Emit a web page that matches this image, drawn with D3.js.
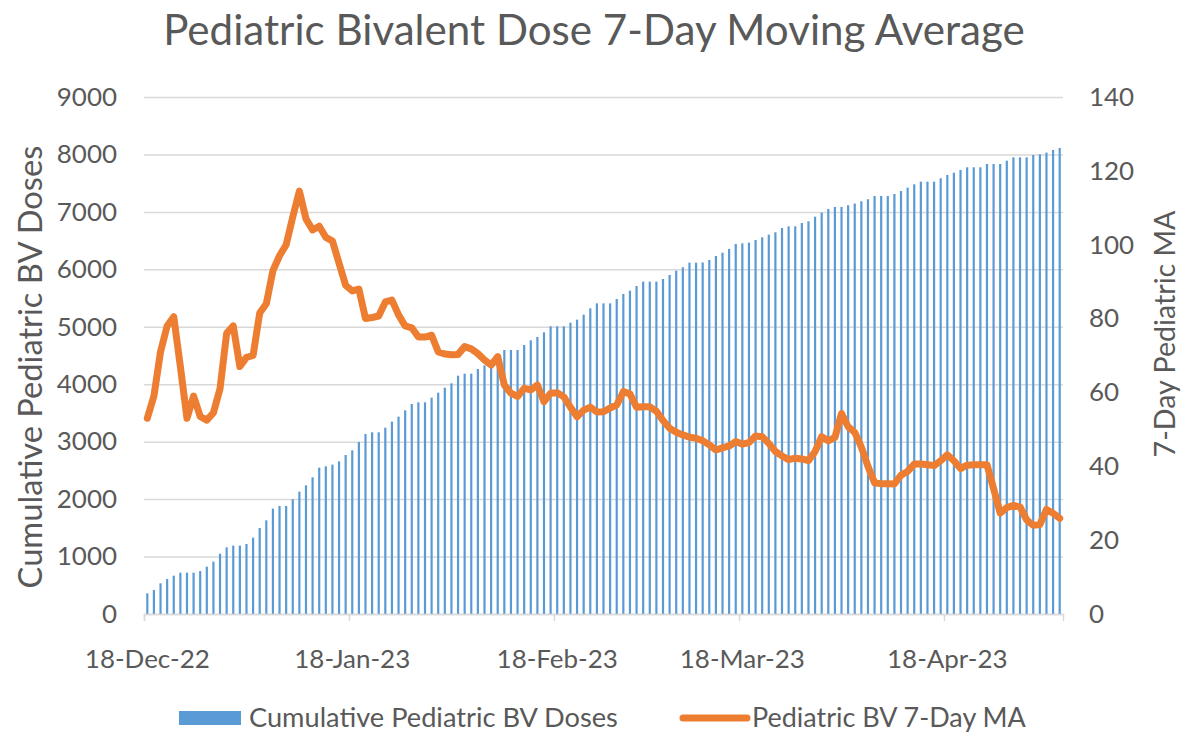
<!DOCTYPE html>
<html>
<head>
<meta charset="utf-8">
<script src="https://cdn.jsdelivr.net/npm/d3@7"></script>
<style>
  body { margin: 0; background: #fff; }
  text { font-family: Lato, "Open Sans", sans-serif; fill: #595959; }
</style>
</head>
<body>
<div id="chart"></div>
<script>
// ─── DATA ──────────────────────────────────────────────
// one value per day, 18-Dec-22 .. 5-May-23
const cumulativeDoses = [
  360, 418, 534, 609, 667, 720, 720, 720, 748, 824,
  911, 1050, 1161, 1190, 1190, 1219, 1329, 1497, 1631, 1834,
  1880, 1880, 1997, 2130, 2240, 2380, 2548, 2571, 2600, 2658,
  2768, 2850, 2994, 3134, 3163, 3163, 3244, 3349, 3436, 3546,
  3656, 3685, 3685, 3766, 3853, 3940, 4016, 4149, 4184, 4184,
  4265, 4329, 4375, 4480, 4596, 4596, 4596, 4683, 4765, 4822,
  4904, 5008, 5008, 5008, 5071, 5124, 5211, 5321, 5408, 5408,
  5408, 5484, 5571, 5629, 5710, 5786, 5786, 5786, 5832, 5902,
  5977, 6036, 6116, 6116, 6120, 6163, 6233, 6290, 6354, 6441,
  6453, 6465, 6511, 6558, 6604, 6645, 6720, 6749, 6749, 6807,
  6836, 6917, 6987, 7051, 7086, 7086, 7115, 7144, 7185, 7220,
  7277, 7277, 7277, 7312, 7364, 7422, 7480, 7526, 7526, 7526,
  7585, 7643, 7683, 7730, 7776, 7776, 7776, 7834, 7834, 7834,
  7892, 7950, 7950, 7950, 7991, 8003, 8032, 8078, 8113
];

const movingAvg = [
  53, 59, 71, 78, 80.5, 67, 53, 59, 53.5, 52.5,
  54.5, 61, 76, 78, 67, 69.5, 70, 81.5, 84, 93,
  97, 100, 107.5, 114.5, 107, 104, 105, 102, 101, 95,
  89, 87.5, 88, 80, 80.3, 80.7, 84.5, 85, 81, 78,
  77.5, 75, 75, 75.5, 71, 70.4, 70.2, 70.3, 72.4, 71.8,
  70.5, 68.8, 67.4, 69.7, 62, 59.8, 58.9, 61.1, 60.7, 62,
  57.5, 59.8, 59.9, 58.8, 56.0, 53.4, 55.2, 56.0, 54.7, 54.8,
  55.8, 56.6, 60.2, 59.6, 56.0, 56.1, 56.1, 54.9, 52.4, 50.3,
  49.2, 48.5, 47.9, 47.6, 46.9, 45.8, 44.4, 45.0, 45.5, 46.7,
  46.0, 46.4, 48.2, 48.0, 46.2, 44.0, 42.8, 41.8, 42.2, 42.0,
  41.5, 44.0, 48.0, 46.9, 47.8, 54.3, 50.7, 49.2, 45.2, 40.0,
  35.5, 35.3, 35.3, 35.2, 37.6, 38.6, 40.6, 40.6, 40.4, 40.2,
  41.5, 43.1, 41.5, 39.4, 40.3, 40.4, 40.4, 40.4, 34.0, 27.3,
  28.8, 29.4, 29.0, 25.5, 24.0, 24.2, 28.3, 27.3, 25.9
];

const xTickLabels = ["18-Dec-22", "18-Jan-23", "18-Feb-23", "18-Mar-23", "18-Apr-23"];
const leftTicks = [0, 1000, 2000, 3000, 4000, 5000, 6000, 7000, 8000, 9000];
const rightTicks = [0, 20, 40, 60, 80, 100, 120, 140];

const titleText = "Pediatric Bivalent Dose 7-Day Moving Average";
const leftTitle = "Cumulative Pediatric BV Doses";
const rightTitle = "7-Day Pediatric MA";
const barName = "Cumulative Pediatric BV Doses";
const lineName = "Pediatric BV 7-Day MA";

// ─── LAYOUT ────────────────────────────────────────────
const width = 1183, height = 732;
const plot = { left: 144, right: 1063, top: 97, bottom: 614 };
const blue = "#5B9BD5", orange = "#ED7D31", grid = "#D9D9D9";

const parseTick = d3.utcParse("%d-%b-%y");
const startDay = new Date(Date.UTC(2022, 11, 18));
const endDay = d3.utcDay.offset(startDay, cumulativeDoses.length);
const days = d3.utcDay.range(startDay, endDay);

const svg = d3.select("#chart").append("svg")
    .attr("width", width)
    .attr("height", height);

const x = d3.scaleUtc().domain([startDay, endDay]).range([plot.left, plot.right]);
const yL = d3.scaleLinear().domain([0, 9000]).range([plot.bottom, plot.top]);
const yR = d3.scaleLinear().domain([0, 140]).range([plot.bottom, plot.top]);
const halfDay = (x(days[1]) - x(days[0])) / 2;
const cx = d => x(d) + halfDay;

// fit a text element to a target width
function fit(sel, target) {
  const len = sel.node().getComputedTextLength();
  const fs = parseFloat(sel.attr("font-size"));
  sel.attr("font-size", fs * target / len);
}

// tick font size from the width of one x label
const probe = svg.append("text").attr("font-size", 20).text(xTickLabels[0]);
fit(probe, 125);
const tickFont = +probe.attr("font-size");
probe.remove();

// ─── GRIDLINES + LEFT AXIS ─────────────────────────────
const gLeft = svg.append("g")
    .attr("transform", `translate(${plot.left},0)`)
    .call(d3.axisLeft(yL).tickValues(leftTicks).tickFormat(d3.format("d"))
      .tickSize(-(plot.right - plot.left)).tickPadding(27));
gLeft.select(".domain").remove();
gLeft.selectAll("line").attr("stroke", grid).attr("stroke-width", 1.5);
gLeft.selectAll("text").attr("font-size", tickFont).attr("font-family", null)
    .style("fill", "#595959");

// ─── RIGHT AXIS ────────────────────────────────────────
const gRight = svg.append("g")
    .attr("transform", `translate(${plot.right},0)`)
    .call(d3.axisRight(yR).tickValues(rightTicks).tickSize(0).tickPadding(26));
gRight.select(".domain").remove();
gRight.selectAll("text").attr("font-size", tickFont).attr("font-family", null)
    .style("fill", "#595959");

// ─── BARS ──────────────────────────────────────────────
svg.append("g").selectAll("rect")
  .data(cumulativeDoses)
  .enter().append("rect")
    .attr("x", (d, i) => cx(days[i]) - 1.1)
    .attr("width", 2.2)
    .attr("y", d => yL(d))
    .attr("height", d => yL(0) - yL(d))
    .attr("fill", blue);

// ─── X AXIS ────────────────────────────────────────────
const tickDates = xTickLabels.map(parseTick);
const gX = svg.append("g")
    .attr("transform", `translate(0,${plot.bottom})`)
    .call(d3.axisBottom(x).tickValues(tickDates).tickSize(7).tickFormat(""));
gX.select(".domain").attr("stroke", grid).attr("stroke-width", 1.5);
gX.selectAll("line").attr("stroke", grid).attr("stroke-width", 1.5);

svg.append("g").selectAll("text")
  .data(tickDates)
  .enter().append("text")
    .attr("x", d => cx(d))
    .attr("y", 668)
    .attr("text-anchor", "middle")
    .attr("font-size", tickFont)
    .text((d, i) => xTickLabels[i]);

// ─── LINE ──────────────────────────────────────────────
const line = d3.line()
    .x((d, i) => cx(days[i]))
    .y(d => yR(d));

svg.append("path")
    .datum(movingAvg)
    .attr("d", line)
    .attr("fill", "none")
    .attr("stroke", orange)
    .attr("stroke-width", 7)
    .attr("stroke-linejoin", "round")
    .attr("stroke-linecap", "round");

// ─── TITLES ────────────────────────────────────────────
const title = svg.append("text")
    .attr("x", 594).attr("y", 45)
    .attr("text-anchor", "middle")
    .attr("font-size", 36)
    .text(titleText);
fit(title, 862);

const lt = svg.append("text")
    .attr("transform", "translate(42,367) rotate(-90)")
    .attr("text-anchor", "middle")
    .attr("font-size", 28)
    .text(leftTitle);
fit(lt, 443);

const rt = svg.append("text")
    .attr("transform", "translate(1175,334) rotate(-90)")
    .attr("text-anchor", "middle")
    .attr("font-size", 28)
    .text(rightTitle);
fit(rt, 247);

// ─── LEGEND ────────────────────────────────────────────
const legend = svg.append("g");
legend.append("rect")
    .attr("x", 179).attr("y", 711).attr("width", 62).attr("height", 14)
    .attr("fill", blue);
const l1 = legend.append("text")
    .attr("x", 249).attr("y", 727)
    .attr("font-size", 22)
    .text(barName);
fit(l1, 369);
legend.append("line")
    .attr("x1", 683).attr("x2", 747).attr("y1", 718).attr("y2", 718)
    .attr("stroke", orange).attr("stroke-width", 7)
    .attr("stroke-linecap", "round");
const l2 = legend.append("text")
    .attr("x", 752).attr("y", 727)
    .attr("font-size", 22)
    .text(lineName);
fit(l2, 274);
</script>
</body>
</html>
